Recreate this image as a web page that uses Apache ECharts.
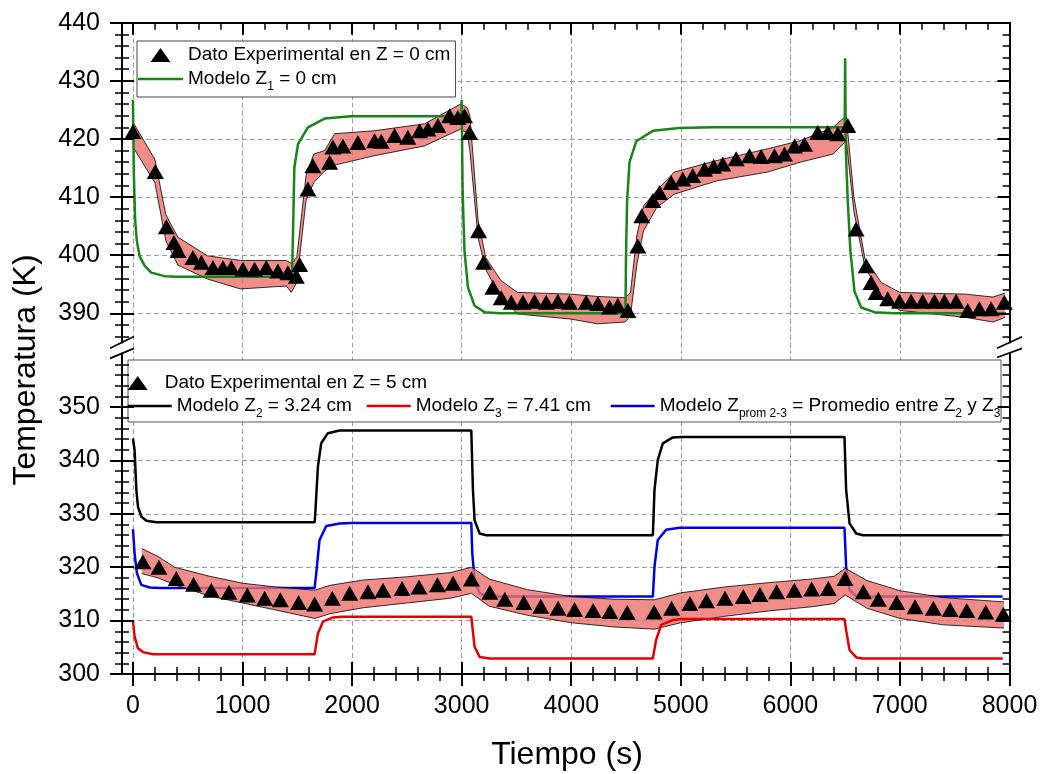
<!DOCTYPE html>
<html><head><meta charset="utf-8">
<script src="https://cdn.jsdelivr.net/npm/echarts@6/dist/echarts.min.js"></script>
<style>html,body{margin:0;padding:0;background:#fff}#c{width:1043px;height:774px}</style>
</head><body><div id="c"></div>
<script>
// ---------- ticks ----------
const xMajorTicks = [0,1000,2000,3000,4000,5000,6000,7000,8000];
const xMinorTicks = [200,400,600,800,1200,1400,1600,1800,2200,2400,2600,2800,3200,3400,3600,3800,4200,4400,4600,4800,5200,5400,5600,5800,6200,6400,6600,6800,7200,7400,7600,7800];
const xGridLines = [0,1000,2000,3000,4000,5000,6000,7000];
const topYLabels = [390,400,410,420,430,440];
const topYMinor = [386,388,392,394,396,398,402,404,406,408,412,414,416,418,422,424,426,428,432,434,436,438];
const topYGrid = [390,400,410,420,430];
const botYLabels = [300,310,320,330,340,350];
const botYMinor = [302,304,306,308,312,314,316,318,322,324,326,328,332,334,336,338,342,344,346,348,352,354,356,358];
const botYGrid = [310,320,330,340,350];

// ---------- top panel (Z = 0 cm) ----------
const topExpT = [0,204,305,374,411,547,624,730,821,898,1004,1110,1217,1323,1414,1491,1521,1597,1642,1795,1825,1916,2053,2205,2266,2388,2509,2616,2692,2783,2890,2965,3026,3072,3154,3200,3285,3361,3453,3559,3665,3772,3878,3984,4137,4243,4350,4425,4517,4608,4644,4745,4806,4912,5018,5109,5216,5300,5383,5505,5627,5733,5855,5946,6038,6129,6250,6341,6433,6524,6600,6692,6737,6783,6889,6996,7102,7208,7315,7406,7513,7619,7725,7832,7953];
const topExpV = [421.3,414.4,404.9,402.2,400.8,399.6,398.8,397.9,397.9,397.9,397.6,397.6,397.9,397.3,397.0,396.4,398.4,411.4,415.4,416.0,418.6,418.8,419.4,419.7,419.6,420.6,420.3,421.4,421.7,422.3,424.0,423.7,424.0,421.1,404.2,398.8,394.5,392.7,391.9,391.9,392.1,391.9,392.1,391.9,391.9,391.7,391.1,391.4,390.5,401.6,406.8,409.4,410.8,412.5,413.1,413.7,414.8,415.3,415.7,416.6,417.1,417.0,417.1,417.4,418.8,419.1,421.1,421.1,420.9,422.3,404.5,398.2,395.3,393.6,392.5,392.1,392.1,392.1,392.1,392.1,392.1,390.5,390.8,390.8,391.9];
const topBandT  = [0,200,300,410,680,980,1400,1445,1495,1580,1650,1750,1840,2200,2660,2990,3050,3075,3150,3220,3360,3510,4000,4240,4490,4540,4600,4660,4780,4940,5330,5790,6090,6390,6510,6580,6680,6830,7000,7600,7850,7960];
const topBandLo = [418.6,412.5,402.5,398.3,395.9,394.2,394.7,393.6,395.3,409.5,412.5,414.5,415.5,417.1,418.8,421.7,421.0,418.0,403.0,397.5,392.7,389.9,389.0,388.2,388.5,389.5,398.5,404.2,408.2,410.5,412.8,414.3,416.0,417.4,419.7,407.5,398.0,393.0,390.5,389.3,388.5,389.3];
const topBandHi = [422.9,416.5,407.0,403.1,399.9,399.1,399.1,398.6,399.6,413.7,417.4,418.0,420.9,421.4,422.6,426.0,425.4,424.0,406.0,399.6,395.6,393.6,393.3,392.9,392.7,393.5,403.5,408.5,411.1,414.3,416.3,418.3,419.7,422.0,424.0,410.0,399.5,395.3,393.6,393.3,392.8,393.5];
const modelZ1T = [0,8,20,35,61,106,167,289,400,1452,1462,1473,1506,1597,1749,1992,2998,3000,3008,3015,3026,3057,3118,3209,3350,4495,4500,4510,4532,4593,4745,4988,5300,6496,6500,6506,6524,6548,6585,6646,6768,6950,7969];
const modelZ1V = [426.7,414.0,406.0,402.5,399.8,398.2,397.0,396.4,396.3,396.3,405.0,415.1,419.1,422.0,423.5,423.9,423.9,426.7,412.0,407.0,400.7,394.5,391.3,390.2,390.0,390.0,400.0,409.4,416.0,419.6,421.4,421.9,422.0,422.0,433.9,418.0,409.3,400.7,393.8,391.0,390.2,390.0,390.0];

// ---------- bottom panel (Z = 5 cm) ----------
const botExpT = [90,237,395,553,715,876,1044,1202,1345,1512,1658,1820,1978,2145,2282,2456,2611,2779,2922,3089,3257,3394,3567,3722,3880,4030,4200,4353,4511,4757,4916,5083,5235,5403,5570,5722,5875,6036,6194,6346,6499,6666,6803,6971,7138,7305,7458,7610,7783,7944];
const botExpV = [321.0,320.0,317.9,316.8,315.7,315.3,314.8,314.2,313.9,313.4,313.1,314.2,315.1,315.4,315.7,316.0,316.3,316.7,317.0,317.8,315.3,314.0,313.4,312.7,312.3,312.1,311.9,311.7,311.5,311.6,312.3,313.2,313.7,314.2,314.5,314.9,315.4,315.7,315.9,316.0,317.9,315.4,314.0,313.4,312.6,312.3,312.1,311.9,311.6,311.2];
const botBandT  = [80,230,380,700,1000,1300,1660,1800,2100,2500,2900,3090,3250,3600,4000,4400,4760,5000,5400,5800,6200,6400,6500,6700,7000,7400,7950];
const botBandLo = [318.8,318.0,316.7,314.6,313.3,312.0,310.4,311.3,312.4,313.3,314.2,315.1,312.7,311.0,309.6,308.8,308.4,309.6,310.8,311.8,312.6,313.2,314.8,312.3,310.4,309.2,308.6];
const botBandHi = [323.5,322.0,320.0,318.3,317.0,316.3,315.7,316.6,317.6,318.2,319.0,320.0,317.8,315.8,314.5,314.0,313.9,315.2,316.3,317.1,317.8,318.3,319.8,317.5,315.6,314.3,313.5];
const modelZ2T = [0,15,31,46,76,122,213,1658,1664,1688,1718,1779,1886,3088,3103,3118,3164,3225,4745,4760,4790,4836,4927,5000,6494,6509,6540,6601,6662,7938];
const modelZ2V = [344.1,341.9,334.5,331.3,329.5,328.7,328.4,328.4,330.1,338.8,343.2,345.1,345.6,345.6,334.5,328.8,326.3,326.0,326.0,334.5,340.1,343.2,344.3,344.4,344.4,334.5,328.2,326.3,326.0,326.0];
const modelZ3T = [0,15,46,91,182,1658,1688,1734,1825,1900,3088,3118,3164,3255,4745,4775,4821,4927,5000,6494,6509,6540,6601,6660,7938];
const modelZ3V = [309.9,307.0,304.8,304.1,303.7,303.7,307.6,309.8,310.6,310.7,310.7,305.1,303.2,302.9,302.9,306.4,309.2,310.1,310.3,310.3,308.2,304.5,303.1,302.9,302.9];
const modelAvgT = [0,15,36,76,152,250,1658,1673,1703,1764,1886,2000,3088,3097,3118,3164,3255,4745,4760,4790,4866,4988,6494,6509,6540,6601,6660,7938];
const modelAvgV = [327.1,322.6,318.9,316.7,316.2,316.1,316.1,318.9,325.1,327.7,328.2,328.3,328.3,322.6,317.6,315.1,314.5,314.5,320.1,325.1,327.0,327.4,327.4,320.1,315.7,314.6,314.5,314.5];

// ---------- names ----------
const N_EXP0 = 'Dato Experimental en Z = 0 cm';
const N_Z1 = 'Modelo Z1 = 0 cm';
const N_EXP5 = 'Dato Experimental en Z = 5 cm';
const N_Z2 = 'Modelo Z2 = 3.24 cm';
const N_Z3 = 'Modelo Z3 = 7.41 cm';
const N_ZP = 'Modelo Zprom 2-3 = Promedio entre Z2 y Z3';
const legendRich = {};
legendRich[N_Z1] = 'Modelo Z{s|1} = 0 cm';
legendRich[N_Z2] = 'Modelo Z{s|2} = 3.24 cm';
legendRich[N_Z3] = 'Modelo Z{s|3} = 7.41 cm';
legendRich[N_ZP] = 'Modelo Z{s|prom 2-3} = Promedio entre Z{s|2} y Z{s|3}';

const FONT = "'Liberation Sans', Arial, sans-serif";
const GRIDSTYLE = {color:'#9c9c9c', width:1, type:[5,3]};
const TRI = 'path://M10,0L20,14L0,14Z';
const LINEICON = 'path://M0,0H44V2.6H0Z';

const pts = (T, V) => T.map((t, i) => [t, V[i]]);

function ax(o) {
  return {
    type:'value', gridIndex:o.g, position:o.pos, min:o.min, max:o.max, silent:true,
    z: o.z === undefined ? 5 : o.z,
    axisLine:{show:!!o.line, onZero:false, lineStyle:{color:'#000', width:2}},
    axisTick:{show:!!o.ticks, customValues:o.ticks, length:o.len, inside:!!o.inside,
      lineStyle:o.ts || {color:'#000', width:o.tw || 2}},
    axisLabel:{show:!!o.labels, customValues:o.labels, margin:o.margin || 8,
      fontSize:25, fontFamily:FONT, color:'#000', formatter:(v) => String(v)},
    splitLine:{show:false}, minorTick:{show:false}, minorSplitLine:{show:false}
  };
}
const X0 = -100, X1 = 8000;
const xAxis = [
  ax({g:0,pos:'top',min:X0,max:X1,line:true,ticks:xMajorTicks,len:12,inside:true}),
  ax({g:0,pos:'top',min:X0,max:X1,ticks:xMinorTicks,len:7,inside:true,tw:1.5}),
  ax({g:0,pos:'top',min:X0,max:X1,ticks:xGridLines,len:331,inside:true,ts:GRIDSTYLE,z:0}),
  ax({g:1,pos:'bottom',min:X0,max:X1,line:true,ticks:xMajorTicks,len:12,inside:false,labels:xMajorTicks,margin:20}),
  ax({g:1,pos:'bottom',min:X0,max:X1,ticks:xMajorTicks,len:12,inside:true}),
  ax({g:1,pos:'bottom',min:X0,max:X1,ticks:xMinorTicks,len:7,inside:false,tw:1.5}),
  ax({g:1,pos:'bottom',min:X0,max:X1,ticks:xMinorTicks,len:7,inside:true,tw:1.5}),
  ax({g:1,pos:'bottom',min:X0,max:X1,ticks:xGridLines,len:320.4,inside:true,ts:GRIDSTYLE,z:0})
];
function yset(g, min, max, labels, minor, grid) {
  return [
    ax({g,pos:'left',min,max,line:true,ticks:labels,len:12,inside:false,labels,margin:22}),
    ax({g,pos:'left',min,max,ticks:labels,len:12,inside:true}),
    ax({g,pos:'left',min,max,ticks:minor,len:7,inside:false,tw:1.5}),
    ax({g,pos:'left',min,max,ticks:minor,len:7,inside:true,tw:1.5}),
    ax({g,pos:'right',min,max,line:true,ticks:labels,len:12,inside:true}),
    ax({g,pos:'right',min,max,ticks:minor,len:7,inside:true,tw:1.5}),
    ax({g,pos:'left',min,max,ticks:grid,len:887.5,inside:true,ts:GRIDSTYLE,z:0})
  ];
}
const yAxis = yset(0, 385, 440, topYLabels, topYMinor, topYGrid)
  .concat(yset(1, 300, 360, botYLabels, botYMinor, botYGrid));

function band(name, xi, yi, T, LO, HI, z) {
  return {
    type:'custom', name, xAxisIndex:xi, yAxisIndex:yi, z, silent:true,
    data:T.map((t, i) => [t, LO[i], HI[i]]),
    encode:{x:0, y:[1,2]},
    renderItem(params, api) {
      if (params.dataIndex !== 0) return null;
      const up = T.map((t, i) => api.coord([t, HI[i]]));
      const lo = T.map((t, i) => api.coord([t, LO[i]]));
      return {type:'group', children:[
        {type:'polygon', shape:{points:up.concat(lo.slice().reverse())}, style:{fill:'rgba(238,112,108,0.8)'}},
        {type:'polyline', shape:{points:up}, style:{stroke:'#000', lineWidth:0.8, fill:null}},
        {type:'polyline', shape:{points:lo}, style:{stroke:'#000', lineWidth:0.8, fill:null}}
      ]};
    }
  };
}
function lineS(name, xi, yi, T, V, color, z) {
  return {type:'line', name, xAxisIndex:xi, yAxisIndex:yi, z, data:pts(T, V),
    symbol:'none', showSymbol:false, silent:true, lineStyle:{color, width:2.5}, itemStyle:{color}};
}
function scat(name, xi, yi, T, V) {
  return {type:'scatter', name, xAxisIndex:xi, yAxisIndex:yi, z:6, data:pts(T, V),
    symbol:'triangle', symbolSize:[17,15], silent:true, itemStyle:{color:'#000', opacity:1}};
}

const legText = {fontSize:19, fontFamily:FONT, color:'#000', lineHeight:20,
  rich:{s:{fontSize:12, fontFamily:FONT, color:'#000', lineHeight:12, verticalAlign:'bottom', padding:[0,0,-4,0]}}};
function leg(o) {
  return Object.assign({
    selectedMode:false, itemWidth:44, itemHeight:14, itemGap:4, padding:0,
    textStyle:legText, formatter:(n) => legendRich[n] || n, z:6
  }, o);
}

const option = {
  animation:false,
  backgroundColor:'#fff',
  grid:[
    {left:122, right:33.5, top:22.7, height:319.7, outerBoundsMode:'none'},
    {left:122, right:33.5, top:353.6, height:320.4, outerBoundsMode:'none'}
  ],
  xAxis, yAxis,
  legend:[
    leg({left:137, top:41, orient:'vertical', itemWidth:45, padding:[4,5,4,1],
      backgroundColor:'#fff', borderColor:'#444', borderWidth:1,
      data:[{name:N_EXP0, icon:TRI, itemStyle:{opacity:1}}, {name:N_Z1, icon:LINEICON}]}),
    leg({left:127.7, top:373, data:[{name:N_EXP5, icon:TRI, itemStyle:{opacity:1}}]}),
    leg({left:127.7, top:396, data:[{name:N_Z2, icon:LINEICON}]}),
    leg({left:366.7, top:396, data:[{name:N_Z3, icon:LINEICON}]}),
    leg({left:610.7, top:396, data:[{name:N_ZP, icon:LINEICON}]})
  ],
  graphic:[
    {type:'rect', z:3, shape:{x:128, y:360, width:873, height:62}, style:{fill:'#fff', stroke:'#555', lineWidth:1}},
    {type:'line', z:20, shape:{x1:110, y1:348.3, x2:134, y2:336.5}, style:{stroke:'#000', lineWidth:1.8}},
    {type:'line', z:20, shape:{x1:110, y1:358.3, x2:134, y2:348.3}, style:{stroke:'#000', lineWidth:1.8}},
    {type:'line', z:20, shape:{x1:997, y1:348.3, x2:1022, y2:336.7}, style:{stroke:'#000', lineWidth:1.8}},
    {type:'line', z:20, shape:{x1:997, y1:357.5, x2:1022, y2:348.3}, style:{stroke:'#000', lineWidth:1.8}},
    {type:'text', z:20, x:26, y:370, rotation:Math.PI/2,
      style:{text:'Temperatura (K)', fontSize:32, fontFamily:FONT, fill:'#000', align:'center', verticalAlign:'middle'}},
    {type:'text', z:20, x:567, y:755,
      style:{text:'Tiempo (s)', fontSize:32, fontFamily:FONT, fill:'#000', align:'center', verticalAlign:'middle'}}
  ],
  series:[
    band('bandTop', 0, 0, topBandT, topBandLo, topBandHi, 2),
    lineS(N_Z1, 0, 0, modelZ1T, modelZ1V, '#17851a', 4),
    scat(N_EXP0, 0, 0, topExpT, topExpV),
    lineS(N_ZP, 3, 7, modelAvgT, modelAvgV, '#0000e6', 2),
    band('bandBot', 3, 7, botBandT, botBandLo, botBandHi, 3),
    lineS(N_Z3, 3, 7, modelZ3T, modelZ3V, '#e60000', 4),
    lineS(N_Z2, 3, 7, modelZ2T, modelZ2V, '#000000', 4),
    scat(N_EXP5, 3, 7, botExpT, botExpV)
  ]
};
const chart = echarts.init(document.getElementById('c'), null, {renderer:'canvas', width:1043, height:774});
chart.setOption(option);
</script>
</body></html>
